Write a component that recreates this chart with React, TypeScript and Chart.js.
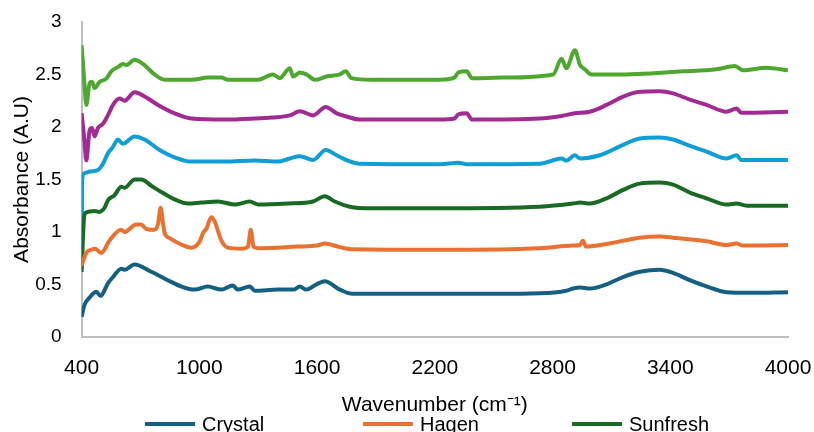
import React, { useEffect, useRef } from "react";
import { Chart, registerables } from "chart.js";

Chart.register(...registerables);

// ---- data (wavenumber cm^-1, absorbance) ----
const seriesNames = ["Crystal", "Hagen", "Sunfresh", "Series 4", "Series 5", "Series 6"];
const seriesColors = ["#156082", "#E97132", "#196B24", "#0F9ED5", "#A02B93", "#4EA72E"];

const crystalX = [400, 414, 443, 475, 497, 534, 560, 602, 619, 670, 755, 839, 908, 976, 1043, 1112, 1171, 1195, 1257, 1282, 1400, 1480, 1512, 1545, 1597, 1639, 1716, 1782, 2000, 2225, 2500, 2735, 2870, 2904, 2940, 2990, 3075, 3159, 3245, 3347, 3414, 3500, 3585, 3687, 3800, 4000];
const crystalY = [0.19, 0.30, 0.38, 0.43, 0.39, 0.51, 0.57, 0.65, 0.64, 0.69, 0.62, 0.54, 0.48, 0.45, 0.48, 0.45, 0.49, 0.45, 0.48, 0.44, 0.45, 0.45, 0.48, 0.45, 0.50, 0.53, 0.45, 0.41, 0.41, 0.41, 0.41, 0.415, 0.44, 0.46, 0.47, 0.46, 0.50, 0.57, 0.62, 0.64, 0.61, 0.54, 0.48, 0.425, 0.42, 0.425];

const hagenX = [400, 424, 449, 470, 500, 543, 602, 619, 679, 704, 729, 772, 790, 803, 815, 823, 849, 908, 959, 1002, 1019, 1036, 1061, 1078, 1112, 1146, 1214, 1248, 1262, 1276, 1300, 1500, 1600, 1639, 1716, 1782, 2225, 2735, 2904, 2940, 2955, 2970, 3075, 3245, 3347, 3414, 3585, 3687, 3738, 3770, 4000];
const hagenY = [0.68, 0.80, 0.83, 0.84, 0.80, 0.92, 1.02, 1.00, 1.07, 1.07, 1.03, 1.02, 1.08, 1.23, 1.08, 0.99, 0.94, 0.88, 0.85, 0.91, 0.99, 1.03, 1.14, 1.10, 0.92, 0.85, 0.84, 0.86, 1.02, 0.86, 0.845, 0.86, 0.87, 0.89, 0.855, 0.835, 0.83, 0.845, 0.87, 0.875, 0.915, 0.86, 0.885, 0.945, 0.955, 0.945, 0.91, 0.875, 0.89, 0.87, 0.875];

const sunfreshX = [400, 414, 431, 465, 490, 517, 534, 568, 602, 619, 670, 704, 755, 806, 874, 942, 1010, 1095, 1180, 1257, 1300, 1450, 1580, 1639, 1690, 1767, 1880, 2225, 2735, 2904, 2940, 2990, 3075, 3160, 3245, 3347, 3414, 3500, 3585, 3687, 3738, 3790, 4000];
const sunfreshY = [0.62, 1.16, 1.19, 1.20, 1.19, 1.23, 1.30, 1.35, 1.43, 1.42, 1.50, 1.50, 1.44, 1.38, 1.31, 1.27, 1.28, 1.29, 1.26, 1.29, 1.26, 1.27, 1.29, 1.34, 1.29, 1.24, 1.225, 1.225, 1.24, 1.27, 1.28, 1.27, 1.32, 1.40, 1.46, 1.47, 1.45, 1.375, 1.32, 1.26, 1.27, 1.25, 1.25];

const series4X = [400, 403, 414, 443, 483, 509, 534, 560, 585, 611, 670, 721, 806, 874, 959, 1130, 1282, 1400, 1461, 1512, 1580, 1644, 1700, 1750, 1818, 2225, 2320, 2362, 2735, 2846, 2870, 2914, 2940, 3040, 3160, 3245, 3347, 3414, 3500, 3585, 3687, 3738, 3762, 4000];
const series4Y = [0.70, 1.50, 1.56, 1.575, 1.59, 1.65, 1.75, 1.81, 1.88, 1.84, 1.91, 1.88, 1.77, 1.71, 1.67, 1.67, 1.68, 1.67, 1.70, 1.72, 1.685, 1.78, 1.73, 1.685, 1.65, 1.645, 1.66, 1.645, 1.65, 1.70, 1.68, 1.73, 1.70, 1.73, 1.83, 1.89, 1.90, 1.88, 1.82, 1.765, 1.70, 1.73, 1.685, 1.685];

const series5X = [400, 413, 424, 441, 453, 466, 483, 509, 534, 560, 594, 619, 670, 721, 789, 874, 959, 1130, 1282, 1370, 1461, 1512, 1580, 1644, 1700, 1750, 1818, 2225, 2300, 2320, 2362, 2390, 2735, 2846, 2914, 2990, 3075, 3160, 3245, 3347, 3414, 3500, 3585, 3687, 3738, 3762, 4000];
const series5Y = [2.13, 1.90, 1.68, 1.97, 1.99, 1.91, 1.99, 2.03, 2.11, 2.21, 2.27, 2.25, 2.33, 2.29, 2.21, 2.13, 2.08, 2.07, 2.08, 2.09, 2.11, 2.15, 2.11, 2.19, 2.13, 2.10, 2.07, 2.07, 2.08, 2.12, 2.13, 2.07, 2.08, 2.105, 2.13, 2.145, 2.21, 2.29, 2.335, 2.34, 2.32, 2.26, 2.21, 2.145, 2.175, 2.135, 2.145];

const series6X = [400, 413, 424, 441, 453, 466, 492, 526, 551, 585, 611, 628, 670, 713, 772, 823, 959, 1044, 1112, 1146, 1300, 1375, 1410, 1461, 1478, 1512, 1546, 1589, 1648, 1716, 1746, 1775, 1880, 2225, 2300, 2320, 2362, 2390, 2550, 2803, 2846, 2870, 2914, 2940, 2965, 2998, 3125, 3466, 3636, 3729, 3771, 3890, 4000];
const series6Y = [2.78, 2.45, 2.21, 2.42, 2.43, 2.37, 2.43, 2.46, 2.53, 2.57, 2.60, 2.59, 2.64, 2.60, 2.50, 2.45, 2.45, 2.47, 2.47, 2.45, 2.45, 2.50, 2.465, 2.56, 2.48, 2.52, 2.50, 2.45, 2.48, 2.50, 2.53, 2.465, 2.45, 2.45, 2.47, 2.52, 2.53, 2.465, 2.47, 2.50, 2.65, 2.56, 2.73, 2.59, 2.55, 2.50, 2.50, 2.53, 2.55, 2.58, 2.54, 2.565, 2.54];

const xTicks = [400, 1000, 1600, 2200, 2800, 3400, 4000];
const yTicks = [0, 0.5, 1, 1.5, 2, 2.5, 3];

const seriesX = [crystalX, hagenX, sunfreshX, series4X, series5X, series6X];
const seriesY = [crystalY, hagenY, sunfreshY, series4Y, series5Y, series6Y];

const FONT = "'Liberation Sans', Arial, sans-serif";

const legendPlugin = {
  id: "gridLegend",
  afterDraw(chart: any) {
    const ctx = chart.ctx;
    const colStarts = [145, 363, 572];
    ctx.save();
    ctx.font = "20px " + FONT;
    ctx.textBaseline = "middle";
    ctx.textAlign = "left";
    chart.data.datasets.forEach((ds: any, i: number) => {
      const row = Math.floor(i / 3);
      const col = i % 3;
      const x = colStarts[col];
      const y = 424 + row * 26;
      ctx.strokeStyle = ds.borderColor;
      ctx.lineWidth = 4;
      ctx.beginPath();
      ctx.moveTo(x, y);
      ctx.lineTo(x + 50, y);
      ctx.stroke();
      ctx.fillStyle = "#000";
      ctx.fillText(ds.label, x + 57, y + 1);
    });
    ctx.restore();
  },
};

export default function App() {
  const ref = useRef<HTMLCanvasElement | null>(null);
  useEffect(() => {
    if (!ref.current) return;
    const datasets = seriesNames.map((name, i) => ({
      label: name,
      data: seriesX[i].map((x, j) => ({ x, y: seriesY[i][j] })),
      borderColor: seriesColors[i],
      backgroundColor: seriesColors[i],
      borderWidth: 4,
      pointRadius: 0,
      cubicInterpolationMode: "monotone" as const,
      fill: false,
    }));
    const chart = new Chart(ref.current, {
      type: "line",
      data: { datasets },
      plugins: [legendPlugin],
      options: {
        animation: false,
        responsive: false,
        layout: { padding: { top: 22, right: 26, bottom: 14, left: 0 } },
        plugins: { legend: { display: false }, tooltip: { enabled: false } },
        scales: {
          x: {
            type: "linear",
            min: 400,
            max: 4000,
            afterBuildTicks: (axis: any) => {
              axis.ticks = xTicks.map((v) => ({ value: v }));
            },
            grid: { display: false, drawTicks: false },
            border: { display: true, color: "#BFBFBF", width: 2 },
            ticks: {
              padding: 0,
              color: "#000",
              autoSkip: false,
              font: { size: 21, family: FONT, lineHeight: 2.95 },
              callback: (v: any) => String(v),
              maxRotation: 0,
            },
            title: {
              display: true,
              text: "Wavenumber (cm⁻¹)",
              color: "#000",
              font: { size: 21, family: FONT },
              padding: { top: -6, bottom: 0 },
            },
          },
          y: {
            min: 0,
            max: 3,
            afterBuildTicks: (axis: any) => {
              axis.ticks = yTicks.map((v) => ({ value: v }));
            },
            grid: { display: false, drawTicks: false },
            border: { display: true, color: "#BFBFBF", width: 2 },
            ticks: {
              padding: 20,
              color: "#000",
              autoSkip: false,
              font: { size: 19, family: FONT, lineHeight: 0.2 },
              callback: (v: any) => String(v),
            },
            title: {
              display: true,
              text: "Absorbance (A.U)",
              color: "#000",
              font: { size: 21, family: FONT },
              padding: { top: 10, bottom: -20 },
            },
          },
        },
      },
    });
    return () => chart.destroy();
  }, []);
  return (
    <div style={{ position: "fixed", left: 0, top: 0, width: 814, height: 432, overflow: "hidden", background: "#fff" }}>
      <canvas ref={ref} width={814} height={432} style={{ display: "block" }} />
    </div>
  );
}
